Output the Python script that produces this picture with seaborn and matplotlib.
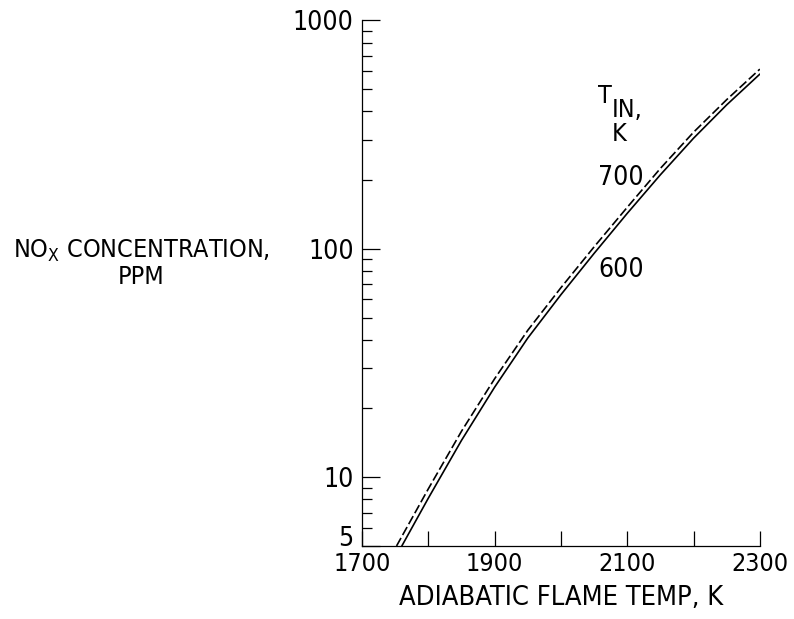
import numpy as np
import pandas as pd
import matplotlib
matplotlib.use("Agg")
import matplotlib.pyplot as plt
from matplotlib.ticker import FixedLocator, NullFormatter
import seaborn as sns

# Values
temp_600 = [1760, 1800, 1850, 1900, 1950, 2000, 2050, 2100, 2150, 2200, 2250, 2300]
nox_600 = [5.0, 8.1, 14.5, 24.8, 40.7, 63, 95.5, 143, 211, 305, 427, 582]
temp_700 = [1752, 1800, 1850, 1900, 1950, 2000, 2050, 2100, 2150, 2200, 2250, 2300]
nox_700 = [5.0, 8.9, 15.9, 27, 44, 67.6, 102, 152, 225, 324, 450, 612]
inlet_temps = ["600", "700"]

x_ticks = [1700, 1800, 1900, 2000, 2100, 2200, 2300]
x_ticklabels = ["1700", "", "1900", "", "2100", "", "2300"]
y_ticks = [5, 10, 100, 1000]
y_ticklabels = ["5", "10", "100", "1000"]
y_minor = [6, 7, 8, 9, 20, 30, 40, 50, 60, 70, 80, 90,
           200, 300, 400, 500, 600, 700, 800, 900]

df = pd.concat([
    pd.DataFrame({"temp": temp_600, "nox": nox_600, "tin": inlet_temps[0]}),
    pd.DataFrame({"temp": temp_700, "nox": nox_700, "tin": inlet_temps[1]}),
])

sns.set_style("ticks")
plt.rcParams["font.family"] = ["DejaVu Sans"]
plt.rcParams["font.stretch"] = "condensed"
plt.rcParams["mathtext.fontset"] = "dejavusans"
for k in ["text.color", "axes.labelcolor", "xtick.color", "ytick.color", "axes.edgecolor"]:
    plt.rcParams[k] = "black"

fig = plt.figure(figsize=(7.94, 6.19), dpi=100)
ax = fig.add_axes([0.456, 0.118, 0.501, 0.849])

sns.lineplot(data=df, x="temp", y="nox", style="tin", color="black",
             dashes={"600": "", "700": (5.5, 2)}, linewidth=1.2,
             legend=False, ax=ax, sort=False)

ax.set_yscale("log")
ax.set_xlim(1700, 2300)
ax.set_ylim(5, 1000)

ax.xaxis.set_major_locator(FixedLocator(x_ticks))
ax.set_xticklabels(x_ticklabels)
ax.yaxis.set_major_locator(FixedLocator(y_ticks))
ax.set_yticklabels(y_ticklabels)
ax.yaxis.set_minor_locator(FixedLocator(y_minor))
ax.yaxis.set_minor_formatter(NullFormatter())

ax.tick_params(axis="x", direction="in", length=11, width=0.9, labelsize=18, pad=4)
ax.tick_params(axis="y", which="major", direction="in", length=13, width=0.9, labelsize=19, pad=6)
ax.tick_params(axis="y", which="minor", direction="in", length=7, width=0.9)
ax.get_yticklabels()[0].set_va("baseline")

for s in ["top", "right"]:
    ax.spines[s].set_visible(False)
for s in ["left", "bottom"]:
    ax.spines[s].set_linewidth(0.9)

ax.set_xlabel("ADIABATIC FLAME TEMP, K", fontsize=19.5, labelpad=7)
ax.set_ylabel("")

fig.text(0.178, 0.575, "NO$_\\mathregular{X}$ CONCENTRATION,\nPPM", ha="center", va="center",
         fontsize=18, linespacing=1.05)

# curve labels
ax.text(0.593, 0.857, "T", transform=ax.transAxes, ha="left", va="center", fontsize=18)
ax.text(0.628, 0.830, "IN,", transform=ax.transAxes, ha="left", va="center", fontsize=18)
ax.text(0.628, 0.783, "K", transform=ax.transAxes, ha="left", va="center", fontsize=18)
ax.text(0.593, 0.701, "700", transform=ax.transAxes, ha="left", va="center", fontsize=19)
ax.text(0.595, 0.526, "600", transform=ax.transAxes, ha="left", va="center", fontsize=19)

plt.savefig("out.png", dpi=100)
plt.close()
